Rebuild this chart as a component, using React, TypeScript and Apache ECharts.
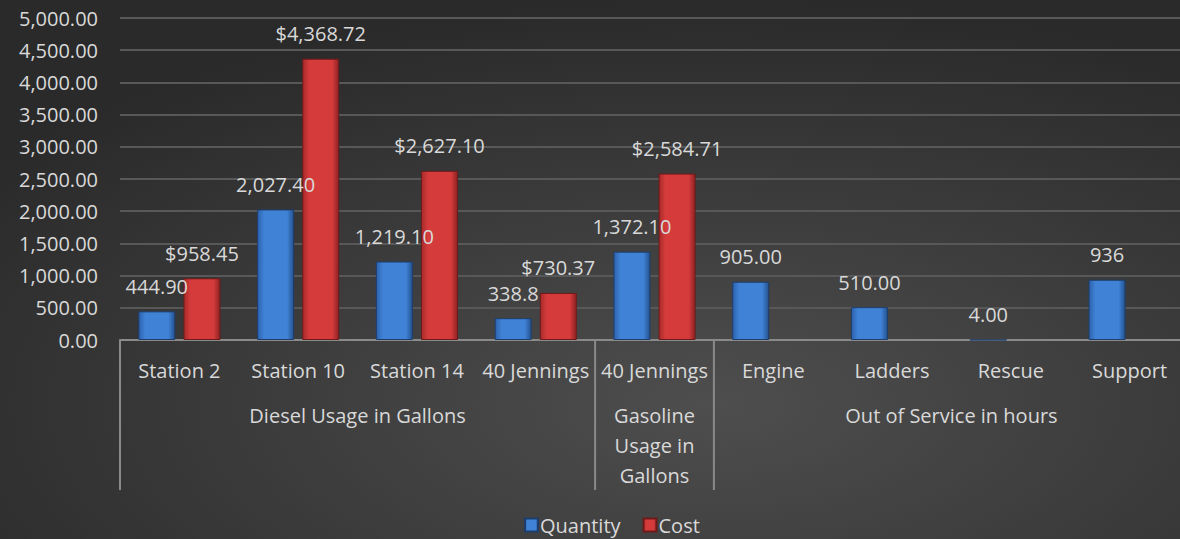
import React, { useEffect, useRef } from "react";
import * as echarts from "echarts";

const categories = ["Station 2", "Station 10", "Station 14", "40 Jennings", "40 Jennings", "Engine", "Ladders", "Rescue", "Support"];
const groupNames = ["Diesel Usage in Gallons", "Gasoline\nUsage in\nGallons", "Out of Service in hours"];
const groupStarts = [0, 4, 5];
const groupEnds = [3, 4, 8];
const quantity = [444.9, 2027.4, 1219.1, 338.8, 1372.1, 905, 510, 4, 936];
const quantityLabels = ["444.90", "2,027.40", "1,219.10", "338.8", "1,372.10", "905.00", "510.00", "4.00", "936"];
const cost: (number | null)[] = [958.45, 4368.72, 2627.1, 730.37, 2584.71, null, null, null, null];
const seriesNames = ["Quantity", "Cost"];

const FONT = "'Open Sans', sans-serif";
const TXT = "#d9d9d9";

export default function App() {
  const ref = useRef<HTMLDivElement>(null);
  useEffect(() => {
    document.body.style.margin = "0";
    const chart = echarts.init(ref.current!, null, { renderer: "svg" });
    const fmtCost = (v: number) =>
      "$" + v.toLocaleString("en-US", { minimumFractionDigits: 2, maximumFractionDigits: 2 });
    const blue = new echarts.graphic.LinearGradient(0, 0, 1, 0, [
      { offset: 0, color: "#2d62ad" },
      { offset: 0.18, color: "#3f82d6" },
      { offset: 0.82, color: "#3f82d6" },
      { offset: 1, color: "#24528f" },
    ]);
    const red = new echarts.graphic.LinearGradient(0, 0, 1, 0, [
      { offset: 0, color: "#a82a2a" },
      { offset: 0.18, color: "#d53b3b" },
      { offset: 0.82, color: "#d53b3b" },
      { offset: 1, color: "#8e2222" },
    ]);
    chart.setOption({
      animation: false,
      backgroundColor: {
        type: "radial",
        x: 0.6,
        y: 0.75,
        r: 0.75,
        colorStops: [
          { offset: 0, color: "#4e4e4e" },
          { offset: 1, color: "#2a2a2a" },
        ],
      },
      grid: { left: 120, right: 0, top: 18, bottom: 199, containLabel: false },
      legend: {
        data: seriesNames,
        left: 519,
        top: 510,
        icon: "rect",
        itemWidth: 13,
        itemHeight: 13,
        itemGap: 22,
        textStyle: { color: TXT, fontSize: 20, fontFamily: FONT, padding: [0, 0, 0, -3] },
      },
      xAxis: {
        type: "category",
        data: categories,
        axisLine: { lineStyle: { color: "#8a8a8a", width: 2 } },
        axisTick: { show: false },
        axisLabel: { color: TXT, fontSize: 20, fontFamily: FONT, margin: 20, interval: 0 },
      },
      yAxis: {
        type: "value",
        min: 0,
        max: 5000,
        interval: 500,
        axisLine: { show: false },
        axisTick: { show: false },
        splitLine: { lineStyle: { color: "#585858", width: 2 } },
        axisLabel: {
          color: TXT,
          fontSize: 20,
          fontFamily: FONT,
          margin: 22,
          formatter: (v: number) =>
            v.toLocaleString("en-US", { minimumFractionDigits: 2, maximumFractionDigits: 2 }),
        },
      },
      series: [
        {
          name: seriesNames[0],
          type: "bar",
          data: quantity,
          barWidth: 37,
          barGap: "22%",
          itemStyle: { color: blue, borderColor: "#1d3e6c", borderWidth: 1 },
          label: {
            show: true,
            position: "top",
            distance: 15,
            color: TXT,
            fontSize: 20,
            fontFamily: FONT,
            formatter: (p: any) => quantityLabels[p.dataIndex],
          },
        },
        {
          name: seriesNames[1],
          type: "bar",
          data: cost,
          barWidth: 37,
          itemStyle: { color: red, borderColor: "#6e1a1a", borderWidth: 1 },
          label: {
            show: true,
            position: "top",
            distance: 15,
            color: TXT,
            fontSize: 20,
            fontFamily: FONT,
            formatter: (p: any) => fmtCost(p.value),
          },
        },
      ],
    });

    const c0 = chart.convertToPixel({ xAxisIndex: 0 }, 0) as number;
    const c1 = chart.convertToPixel({ xAxisIndex: 0 }, 1) as number;
    const band = c1 - c0;
    const y0 = chart.convertToPixel({ yAxisIndex: 0 }, 0) as number;
    const graphic: any[] = [];
    groupNames.forEach((name, i) => {
      const left = (chart.convertToPixel({ xAxisIndex: 0 }, groupStarts[i]) as number) - band / 2;
      const right = (chart.convertToPixel({ xAxisIndex: 0 }, groupEnds[i]) as number) + band / 2;
      graphic.push({
        type: "line",
        shape: { x1: left, y1: y0, x2: left, y2: y0 + 150 },
        style: { stroke: "#8a8a8a", lineWidth: 2 },
      });
      graphic.push({
        type: "text",
        x: (left + right) / 2,
        y: y0 + 60,
        style: {
          text: name,
          fill: TXT,
          font: `20px ${FONT}`,
          textAlign: "center",
          textVerticalAlign: "top",
          lineHeight: 30,
        },
      });
    });
    chart.setOption({ graphic });
    return () => chart.dispose();
  }, []);
  return (
    <div style={{ width: 1180, height: 539, overflow: "hidden" }}>
      <div ref={ref} style={{ width: 1189, height: 539 }} />
    </div>
  );
}
